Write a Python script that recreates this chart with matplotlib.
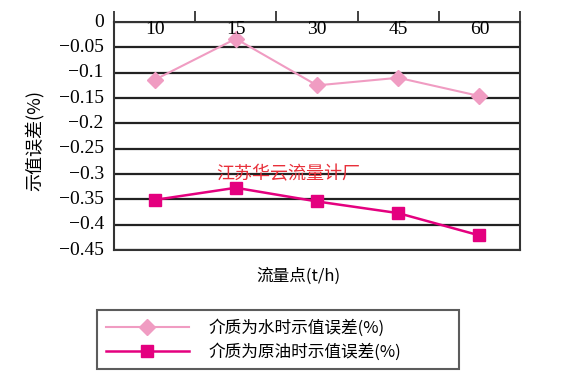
import matplotlib.pyplot as plt
import numpy as np

plt.rcParams['font.serif'] = ['Liberation Serif', 'DejaVu Serif']
plt.rcParams['font.family'] = ['serif', 'Noto Sans CJK SC']

flow_points = ['10', '15', '30', '45', '60']
water_err = [-0.114, -0.033, -0.125, -0.110, -0.146]
oil_err = [-0.351, -0.327, -0.354, -0.377, -0.421]
y_ticks = [0, -0.05, -0.1, -0.15, -0.2, -0.25, -0.3, -0.35, -0.4, -0.45]

cjk = ['Noto Sans CJK SC', 'DejaVu Sans']

fig = plt.figure(figsize=(5.74, 3.89), dpi=100)
ax = fig.add_axes([0.1986, 0.357, 0.7074, 0.5864])

x = np.arange(len(flow_points))
ax.plot(x, water_err, color='#f09cc2', marker='D', markersize=8, lw=1.5,
        label='介质为水时示值误差(%)', zorder=3)
ax.plot(x, oil_err, color='#e4007f', marker='s', markersize=8, lw=1.8,
        label='介质为原油时示值误差(%)', zorder=3)

ax.set_xlim(-0.5, len(flow_points) - 0.5)
ax.set_ylim(-0.45, 0)
ax.set_yticks(y_ticks)
ax.set_yticklabels([])
ax.tick_params(axis='y', length=0)
ytrans = ax.get_yaxis_transform()
for v in y_ticks:
    ax.axhline(v, color='#222222', lw=1.6, zorder=1)
    lab = '0' if v == 0 else f'{v:g}'.replace('-', '\u2212')
    ax.text(-0.025, v, lab, transform=ytrans, ha='right', va='center',
            fontsize=14, family='Liberation Serif')

# category boundaries as ticks on the top axis
ax.set_xticks(np.arange(-0.5, len(flow_points)))
ax.set_xticklabels([])
ax.xaxis.tick_top()
ax.tick_params(axis='x', direction='out', length=8, width=1.3, color='#333333')
for i, lab in enumerate(flow_points):
    ax.text(i, -0.014, lab, ha='center', va='center', fontsize=14, family='Liberation Serif')

for s in ax.spines.values():
    s.set_color('#333333')
    s.set_linewidth(1.5)

fig.text(0.06, 0.64, '示值误差(%)', family=cjk, fontsize=13, rotation=90,
         ha='center', va='center')
fig.text(0.52, 0.29, '流量点(t/h)', family=cjk, fontsize=12, ha='center', va='center')
ax.text(1.65, -0.3, '江苏华云流量计厂', family=cjk,
        color='#e8303a', fontsize=13, ha='center', va='center', zorder=4)

leg = fig.legend(loc='lower left', bbox_to_anchor=(0.155, 0.03, 0.66, 0.17), mode='expand',
                 prop={'family': cjk, 'size': 12}, frameon=True, fancybox=False,
                 handlelength=5, borderpad=0.5, labelspacing=0.4, handletextpad=1.2)
leg.get_frame().set_edgecolor('#333333')
leg.get_frame().set_linewidth(1.5)

fig.savefig('out.png', dpi=100)
